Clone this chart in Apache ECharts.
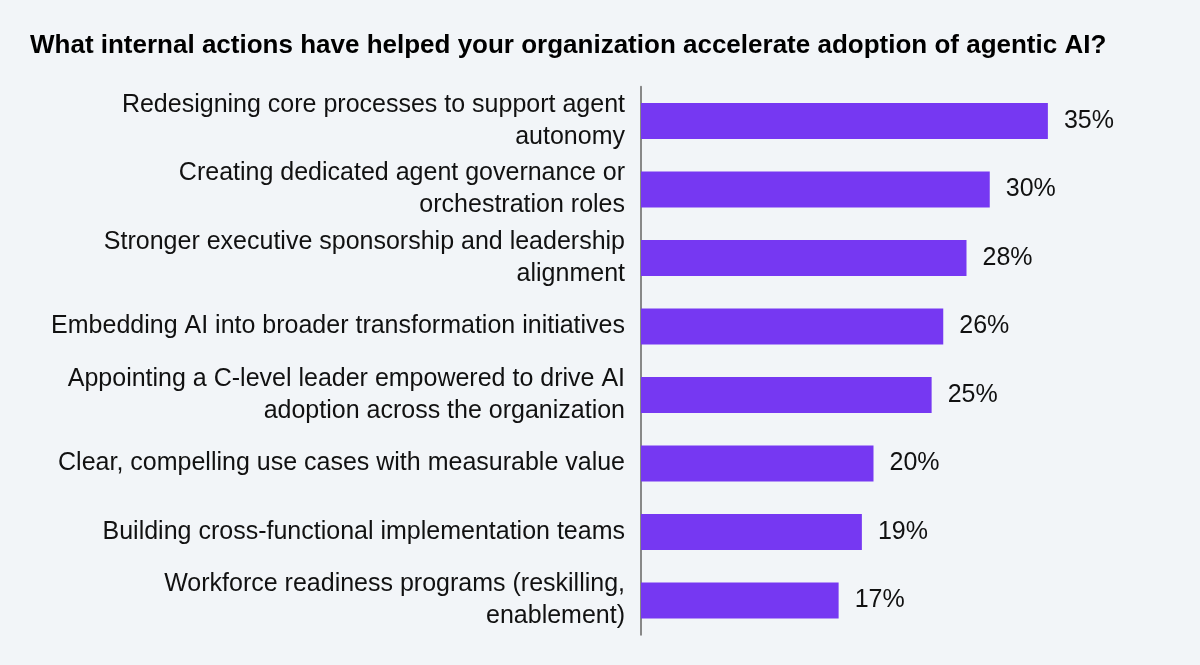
<!DOCTYPE html>
<html><head><meta charset="utf-8">
<script src="https://cdn.jsdelivr.net/npm/echarts@6/dist/echarts.min.js"></script>
<style>html,body{margin:0;padding:0;background:#f2f5f8}#c{width:1200px;height:665px}</style>
</head><body><div id="c"></div>
<script>
const categories = [
  "Redesigning core processes to support agent\nautonomy",
  "Creating dedicated agent governance or\norchestration roles",
  "Stronger executive sponsorship and leadership\nalignment",
  "Embedding AI into broader transformation initiatives",
  "Appointing a C-level leader empowered to drive AI\nadoption across the organization",
  "Clear, compelling use cases with measurable value",
  "Building cross-functional implementation teams",
  "Workforce readiness programs (reskilling,\nenablement)"
];
const values = [35, 30, 28, 26, 25, 20, 19, 17];
const titleText = "What internal actions have helped your organization accelerate adoption of agentic AI?";

const chart = echarts.init(document.getElementById('c'));
chart.setOption({
  backgroundColor: '#f2f5f8',
  animation: false,
  title: {
    text: titleText, left: 25, top: 28,
    textStyle: {fontFamily: 'Liberation Sans, Arial, sans-serif', fontWeight: 'bold', fontSize: 26, color: '#000'}
  },
  grid: {left: 641, top: 86.75, width: 465, height: 548, containLabel: false},
  xAxis: {type: 'value', min: 0, max: 40, show: false},
  yAxis: {
    type: 'category', data: categories, inverse: true,
    axisLine: {show: true, lineStyle: {color: '#888', width: 2}},
    axisTick: {show: false},
    axisLabel: {margin: 16, fontFamily: 'Liberation Sans, Arial, sans-serif', fontSize: 25, color: '#111', lineHeight: 32, align: 'right'}
  },
  series: [{
    type: 'bar', data: values, barWidth: 36,
    itemStyle: {color: '#7638F2'},
    label: {show: true, position: 'right', distance: 16, formatter: '{c}%',
      fontFamily: 'Liberation Sans, Arial, sans-serif', fontSize: 25, color: '#111'}
  }]
});
</script></body></html>
